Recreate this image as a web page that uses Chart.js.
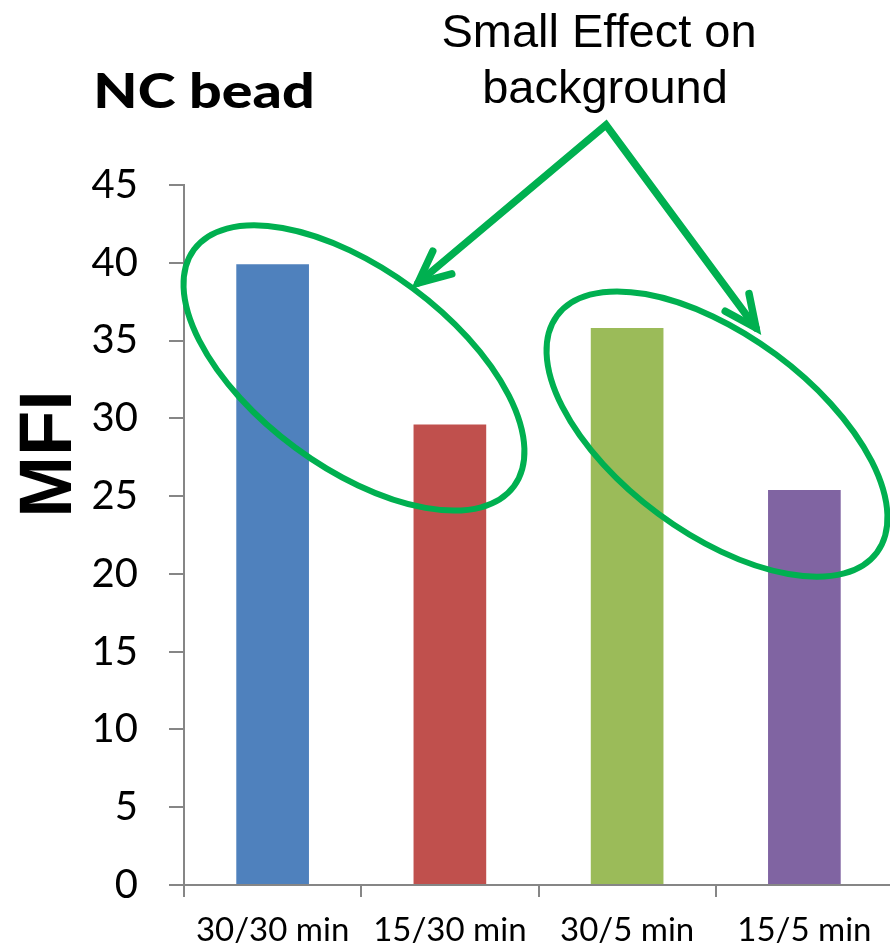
<!DOCTYPE html>
<html>
<head>
<meta charset="utf-8">
<script src="https://cdn.jsdelivr.net/npm/chart.js@4.4.1/dist/chart.umd.min.js"></script>
<style>
  html, body { margin: 0; padding: 0; background: #ffffff; overflow: hidden; }
  #chart { display: block; }
</style>
</head>
<body>
<canvas id="chart" width="893" height="952"></canvas>
<script>
// Incubation conditions and the measured MFI of the NC bead
const categories = ['30/30 min', '15/30 min', '30/5 min', '15/5 min'];
const mfiValues = [39.9, 29.6, 35.8, 25.4];
const barColors = ['#4F81BD', '#C0504D', '#9BBB59', '#8064A2'];
const yMin = 0;
const yMax = 45;
const yStep = 5;

const chartTitle = 'NC bead';
const yAxisTitle = 'MFI';
const calloutLines = ['Small Effect on', 'background'];

// Callout geometry, in axis units (category index, MFI)
const calloutGroups = [{ x: 0.459, y: 33.24 }, { x: 2.507, y: 28.99 }];
const calloutApex = { x: 1.881, y: 48.86 };
const calloutTips = [{ x: 0.820, y: 38.70 }, { x: 2.727, y: 35.81 }];

const AXIS_GREY = '#868686';
const CALLOUT_GREEN = '#00B050';

// Draws the title, the rotated axis title, and the green callout (rings + arrows + text)
const annotationsPlugin = {
  id: 'annotations',
  afterDraw(chart) {
    const ctx = chart.ctx;
    const xs = chart.scales.x;
    const ys = chart.scales.y;
    const px = p => ({ x: xs.getPixelForValue(p.x), y: ys.getPixelForValue(p.y) });

    ctx.save();

    // Title (slightly widened)
    ctx.save();
    ctx.fillStyle = '#000';
    ctx.font = '900 47px Lato';
    ctx.textAlign = 'center';
    ctx.textBaseline = 'alphabetic';
    ctx.translate(204, 108);
    ctx.scale(1.22, 1);
    ctx.fillText(chartTitle, 0, 0);
    ctx.restore();

    // Y axis title
    ctx.save();
    ctx.fillStyle = '#000';
    ctx.font = 'bold 74px "Liberation Sans", Arial, sans-serif';
    ctx.textAlign = 'center';
    ctx.textBaseline = 'alphabetic';
    ctx.translate(71, 454);
    ctx.rotate(-Math.PI / 2);
    ctx.fillText(yAxisTitle, 0, 0);
    ctx.restore();

    // Callout text
    ctx.fillStyle = '#000';
    ctx.font = '47px "Liberation Sans", Arial, sans-serif';
    ctx.textAlign = 'center';
    ctx.textBaseline = 'alphabetic';
    ctx.fillText(calloutLines[0], 599, 47);
    ctx.fillText(calloutLines[1], 605, 103);

    // Rings round each pair of bars
    ctx.strokeStyle = CALLOUT_GREEN;
    ctx.lineWidth = 6;
    calloutGroups.forEach(g => {
      const c = px(g);
      ctx.beginPath();
      ctx.ellipse(c.x, c.y, 199, 99, 36.5 * Math.PI / 180, 0, Math.PI * 2);
      ctx.stroke();
    });

    // Arrows from the text down to the rings
    const apex = px(calloutApex);
    ctx.lineWidth = 7.5;
    ctx.lineCap = 'round';
    ctx.lineJoin = 'miter';
    ctx.beginPath();
    const t0 = px(calloutTips[0]);
    const t1 = px(calloutTips[1]);
    ctx.moveTo(t0.x, t0.y);
    ctx.lineTo(apex.x, apex.y);
    ctx.lineTo(t1.x, t1.y);
    ctx.stroke();

    const headLen = 35;
    const headAngle = 25 * Math.PI / 180;
    [t0, t1].forEach(t => {
      const back = Math.atan2(apex.y - t.y, apex.x - t.x);
      ctx.beginPath();
      ctx.moveTo(t.x + headLen * Math.cos(back - headAngle), t.y + headLen * Math.sin(back - headAngle));
      ctx.lineTo(t.x, t.y);
      ctx.lineTo(t.x + headLen * Math.cos(back + headAngle), t.y + headLen * Math.sin(back + headAngle));
      ctx.stroke();
    });

    ctx.restore();
  }
};

new Chart(document.getElementById('chart'), {
  type: 'bar',
  data: {
    labels: categories,
    datasets: [{
      data: mfiValues,
      backgroundColor: barColors,
      borderWidth: 0,
      categoryPercentage: 1.0,
      barPercentage: 0.41
    }]
  },
  options: {
    responsive: false,
    animation: false,
    devicePixelRatio: 1,
    layout: { padding: { top: 185, right: 0, bottom: 0, left: 0 } },
    plugins: {
      legend: { display: false },
      tooltip: { enabled: false },
      title: { display: false }
    },
    scales: {
      x: {
        offset: true,
        grid: {
          display: true,
          offset: true,
          drawOnChartArea: false,
          drawTicks: true,
          tickLength: 12,
          color: AXIS_GREY,
          lineWidth: 2
        },
        border: { display: true, color: AXIS_GREY, width: 2 },
        ticks: {
          color: '#000',
          font: { family: 'Lato', size: 33 },
          padding: 14,
          maxRotation: 0,
          autoSkip: false
        },
        afterFit(scale) { scale.height = 67; }
      },
      y: {
        min: yMin,
        max: yMax,
        grid: {
          display: true,
          drawOnChartArea: false,
          drawTicks: true,
          tickLength: 15,
          color: AXIS_GREY,
          lineWidth: 2
        },
        border: { display: true, color: AXIS_GREY, width: 2 },
        ticks: {
          stepSize: yStep,
          color: '#000',
          font: { family: 'Lato', size: 40 },
          padding: 31
        },
        afterFit(scale) { scale.width = 184; }
      }
    }
  },
  plugins: [annotationsPlugin]
});
</script>
</body>
</html>
